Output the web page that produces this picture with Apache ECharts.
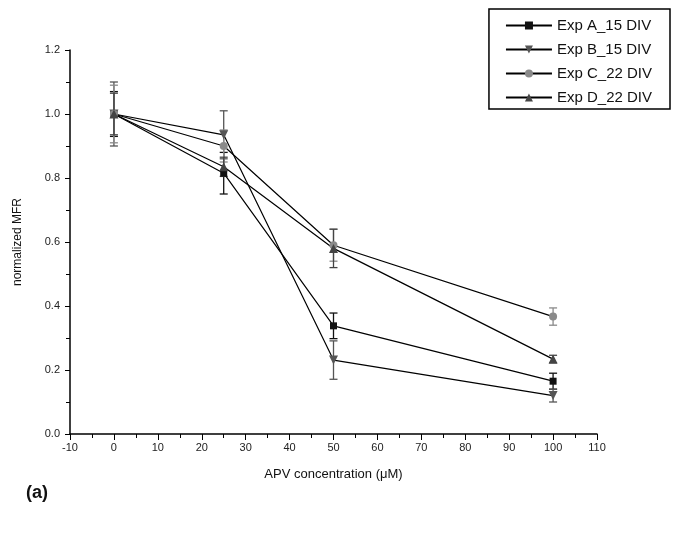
<!DOCTYPE html>
<html>
<head>
<meta charset="utf-8">
<script src="https://cdn.jsdelivr.net/npm/echarts@6/dist/echarts.min.js"></script>
<style>html,body{margin:0;padding:0;background:#fff}#c{width:673px;height:539px}</style>
</head>
<body>
<div id="c"></div>
<script>
const xVals = [0, 25, 50, 100];
const names = ['Exp A_15 DIV', 'Exp B_15 DIV', 'Exp C_22 DIV', 'Exp D_22 DIV'];
const expA = [1.0, 0.815, 0.338, 0.165];
const errA = [0.07, 0.065, 0.04, 0.025];
const expB = [1.0, 0.935, 0.231, 0.12];
const errB = [0.10, 0.075, 0.06, 0.02];
const expC = [1.0, 0.90, 0.59, 0.367];
const errC = [0.09, 0.05, 0.05, 0.027];
const expD = [1.0, 0.835, 0.58, 0.234];
const errD = [0.065, 0.03, 0.06, 0.012];

const vals = [expA, expB, expC, expD];
const errs = [errA, errB, errC, errD];
const symbols = ['rect', 'path://M0,0 L10,0 L5,10 Z', 'circle', 'triangle'];
const colors = ['#111111', '#555555', '#8a8a8a', '#444444'];
const sizes = [7, 9, 8, 9];

const chart = echarts.init(document.getElementById('c'));
const series = [];
vals.forEach((v, i) => {
  series.push({
    name: names[i],
    type: 'line',
    data: xVals.map((x, j) => [x, v[j]]),
    symbol: symbols[i],
    symbolSize: sizes[i],
    itemStyle: { color: colors[i] },
    lineStyle: { color: '#000', width: 1.2 },
    z: 3
  });
  series.push({
    name: 'err' + i,
    type: 'custom',
    data: xVals.map((x, j) => [x, v[j], errs[i][j]]),
    renderItem: function (params, api) {
      const x = api.value(0), y = api.value(1), e = api.value(2);
      const top = api.coord([x, y + e]);
      const bot = api.coord([x, y - e]);
      const w = 4;
      const st = { stroke: colors[i], lineWidth: 1.3 };
      return {
        type: 'group',
        children: [
          { type: 'line', shape: { x1: top[0], y1: top[1], x2: bot[0], y2: bot[1] }, style: st },
          { type: 'line', shape: { x1: top[0] - w, y1: top[1], x2: top[0] + w, y2: top[1] }, style: st },
          { type: 'line', shape: { x1: bot[0] - w, y1: bot[1], x2: bot[0] + w, y2: bot[1] }, style: st }
        ]
      };
    },
    z: 2
  });
});

chart.setOption({
  animation: false,
  backgroundColor: '#fff',
  grid: { left: 70, right: 76, top: 50, bottom: 105 },
  legend: {
    data: names,
    orient: 'vertical',
    right: 3,
    top: 9,
    itemWidth: 46,
    itemHeight: 10,
    itemGap: 7,
    padding: [8, 18, 3, 16],
    borderColor: '#000',
    borderWidth: 1.5,
    textStyle: { fontFamily: 'Liberation Sans, Arial, sans-serif', fontSize: 15, color: '#111', lineHeight: 17 }
  },
  xAxis: {
    type: 'value',
    min: -10, max: 110, interval: 10,
    name: 'APV concentration (\u03bcM)',
    nameLocation: 'middle',
    nameGap: 34,
    nameTextStyle: { fontFamily: 'Liberation Sans, Arial, sans-serif', fontSize: 13, color: '#111' },
    axisLine: { onZero: false, lineStyle: { color: '#000', width: 1.5 } },
    axisTick: { length: 6, lineStyle: { color: '#000' } },
    minorTick: { show: true, splitNumber: 2, length: 4, lineStyle: { color: '#000' } },
    splitLine: { show: false },
    axisLabel: { fontFamily: 'Liberation Sans, Arial, sans-serif', fontSize: 11, color: '#222', margin: 8 }
  },
  yAxis: {
    type: 'value',
    min: 0, max: 1.2, interval: 0.2,
    name: 'normalized MFR',
    nameLocation: 'middle',
    nameGap: 46,
    nameTextStyle: { fontFamily: 'Liberation Sans, Arial, sans-serif', fontSize: 12, color: '#111' },
    axisLine: { show: true, onZero: false, lineStyle: { color: '#000', width: 1.5 } },
    axisTick: { show: true, length: 5, lineStyle: { color: '#000' } },
    minorTick: { show: true, splitNumber: 2, length: 4, lineStyle: { color: '#000' } },
    splitLine: { show: false },
    axisLabel: { fontFamily: 'Liberation Sans, Arial, sans-serif', fontSize: 11, color: '#222', margin: 10, formatter: v => v.toFixed(1) }
  },
  graphic: [{
    type: 'text', left: 26, top: 484,
    style: { text: '(a)', font: 'bold 18px Liberation Sans, Arial, sans-serif', fill: '#111' }
  }],
  series: series
});
</script>
</body>
</html>
